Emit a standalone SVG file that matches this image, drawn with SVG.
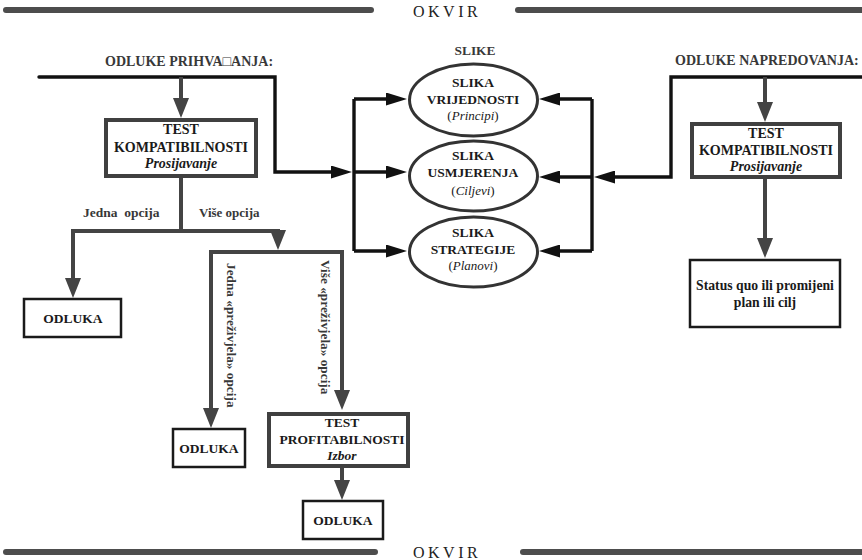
<svg xmlns="http://www.w3.org/2000/svg" width="862" height="560" viewBox="0 0 862 560" font-family="'Liberation Serif', 'DejaVu Serif', serif">
  <style>
    text { font-family: 'Liberation Serif', 'DejaVu Serif', serif; fill: #1a1a1a; }
    .b { font-weight: bold; font-size: 14px; text-anchor: middle; }
    .bi { font-weight: bold; font-style: italic; font-size: 14px; text-anchor: middle; }
    .lbl { font-weight: bold; font-size: 14px; fill: #383838; }
    .edge { font-weight: bold; font-size: 13.3px; fill: #383838; }
    .par { font-size: 13px; text-anchor: middle; }
    .okvir { font-size: 16px; letter-spacing: 3.5px; fill: #222; }
    .frame { stroke: #4d4d4d; stroke-width: 6; stroke-linecap: round; fill: none; }
    .tbox { fill: #fff; stroke: #404040; stroke-width: 4; }
    .obox { fill: #fff; stroke: #1a1a1a; stroke-width: 2.5; }
    .ell { fill: #fff; stroke: #333; stroke-width: 3; }
    .gl { fill: none; stroke: #444; stroke-width: 4; stroke-linejoin: miter; }
    .bl { fill: none; stroke: #111; stroke-width: 3.4; stroke-linejoin: miter; }
  </style>
  <defs>
    <marker id="ag" viewBox="0 0 20 16" refX="10" refY="8" markerWidth="20" markerHeight="16" markerUnits="userSpaceOnUse" orient="auto">
      <path d="M0,0 L20,8 L0,16 z" fill="#444"/>
    </marker>
    <marker id="ab" viewBox="0 0 21 13" refX="11" refY="6.5" markerWidth="21" markerHeight="13" markerUnits="userSpaceOnUse" orient="auto">
      <path d="M0,0 L21,6.5 L0,13 z" fill="#111"/>
    </marker>
  </defs>

  <!-- frame bars -->
  <g id="frame">
    <line class="frame" x1="6" y1="10" x2="371" y2="10"/>
    <line class="frame" x1="518" y1="10" x2="870" y2="10"/>
    <text class="okvir" x="413" y="17">OKVIR</text>
    <line class="frame" x1="6" y1="552" x2="375" y2="552"/>
    <line class="frame" x1="523" y1="552" x2="870" y2="552"/>
    <text class="okvir" x="413" y="558">OKVIR</text>
  </g>

  <!-- headings -->
  <g id="headings">
    <text class="lbl" x="105" y="66">ODLUKE PRIHVA□ANJA:</text>
    <text class="lbl" x="675" y="65">ODLUKE NAPREDOVANJA:</text>
    <text class="lbl" x="475" y="55" text-anchor="middle" style="font-size:13.4px">SLIKE</text>
  </g>

  <!-- connectors -->
  <g id="connectors">
    <!-- acceptance decisions feed the images -->
    <path class="bl" d="M39,77 H275 V172 H342" stroke-linecap="round" marker-end="url(#ab)"/>
    <path class="bl" d="M354,99 V251"/>
    <path class="bl" d="M354,99 H397" marker-end="url(#ab)"/>
    <path class="bl" d="M354,172 H397" marker-end="url(#ab)"/>
    <path class="bl" d="M354,251 H397" marker-end="url(#ab)"/>
    <!-- progress decisions feed the images -->
    <path class="bl" d="M862,77 H671 V177 H604" marker-end="url(#ab)"/>
    <path class="bl" d="M592,99 V251"/>
    <path class="bl" d="M592,99 H549" marker-end="url(#ab)"/>
    <path class="bl" d="M592,177 H549" marker-end="url(#ab)"/>
    <path class="bl" d="M592,251 H549" marker-end="url(#ab)"/>
    <!-- left tree -->
    <path class="gl" d="M181,77 V108" marker-end="url(#ag)"/>
    <path class="gl" d="M181,177 V231 H73 V288" marker-end="url(#ag)"/>
    <path class="gl" d="M181,231 H278 V240" marker-end="url(#ag)"/>
    <path class="gl" d="M278,252 H211 V418" marker-end="url(#ag)"/>
    <path class="gl" d="M278,252 H342 V400" marker-end="url(#ag)"/>
    <path class="gl" d="M342,468 V490" marker-end="url(#ag)"/>
    <!-- right tree -->
    <path class="gl" d="M765,77 V112" marker-end="url(#ag)"/>
    <path class="gl" d="M765,179 V248" marker-end="url(#ag)"/>
    <!-- edge labels -->
    <text class="edge" x="83" y="217" xml:space="preserve" style="font-size:13.5px">Jedna  opcija</text>
    <text class="edge" x="199" y="217" style="font-size:13px">Više opcija</text>
    <text class="edge" transform="translate(227,263) rotate(90)">Jedna «preživjela» opcija</text>
    <text class="edge" transform="translate(321,260) rotate(90)">Više «preživjela» opcija</text>
  </g>

  <!-- left compatibility test -->
  <g id="test-kompat-left">
    <rect class="tbox" x="106" y="120" width="150" height="56"/>
    <text class="b" x="181" y="134">TEST</text>
    <text class="b" x="181" y="152">KOMPATIBILNOSTI</text>
    <text class="bi" x="181" y="168">Prosijavanje</text>
  </g>

  <g id="odluka-1">
    <rect class="obox" x="24" y="299" width="97" height="38"/>
    <text class="b" x="73" y="323" style="font-size:13.5px">ODLUKA</text>
  </g>

  <g id="odluka-2">
    <rect class="obox" x="173" y="429" width="72" height="38"/>
    <text class="b" x="209" y="453" style="font-size:13.5px">ODLUKA</text>
  </g>

  <g id="test-profit">
    <rect class="tbox" x="269" y="414" width="139" height="52"/>
    <text class="b" x="342" y="427" style="font-size:13.5px">TEST</text>
    <text class="b" x="342" y="444" style="font-size:13.5px">PROFITABILNOSTI</text>
    <text class="bi" x="342" y="460" style="font-size:13.5px">Izbor</text>
  </g>

  <g id="odluka-3">
    <rect class="obox" x="303" y="501" width="80" height="38"/>
    <text class="b" x="343" y="525" style="font-size:13.5px">ODLUKA</text>
  </g>

  <!-- images -->
  <g id="slika-vrijednosti">
    <ellipse class="ell" cx="473.5" cy="100" rx="64" ry="36"/>
    <text class="b" x="473" y="87" style="font-size:13.5px">SLIKA</text>
    <text class="b" x="473" y="104" style="font-size:13.5px">VRIJEDNOSTI</text>
    <text class="par" x="473" y="120">(<tspan font-style="italic">Principi</tspan>)</text>
  </g>

  <g id="slika-usmjerenja">
    <ellipse class="ell" cx="473.5" cy="176" rx="64" ry="35"/>
    <text class="b" x="473" y="160" style="font-size:13.5px">SLIKA</text>
    <text class="b" x="473" y="177" style="font-size:13.5px">USMJERENJA</text>
    <text class="par" x="473" y="195">(<tspan font-style="italic">Ciljevi</tspan>)</text>
  </g>

  <g id="slika-strategije">
    <ellipse class="ell" cx="473.5" cy="252" rx="64" ry="35"/>
    <text class="b" x="473" y="237" style="font-size:13.5px">SLIKA</text>
    <text class="b" x="473" y="254" style="font-size:13.5px">STRATEGIJE</text>
    <text class="par" x="473" y="270">(<tspan font-style="italic">Planovi</tspan>)</text>
  </g>

  <!-- right compatibility test -->
  <g id="test-kompat-right">
    <rect class="tbox" x="692" y="124" width="148" height="53"/>
    <text class="b" x="766" y="138">TEST</text>
    <text class="b" x="766" y="155">KOMPATIBILNOSTI</text>
    <text class="bi" x="766" y="171">Prosijavanje</text>
  </g>

  <g id="status">
    <rect class="obox" x="690" y="260" width="150" height="67"/>
    <text class="b" x="765" y="290" style="font-size:13.7px">Status quo ili promijeni</text>
    <text class="b" x="765" y="307" style="font-size:13.7px">plan ili cilj</text>
  </g>
</svg>
